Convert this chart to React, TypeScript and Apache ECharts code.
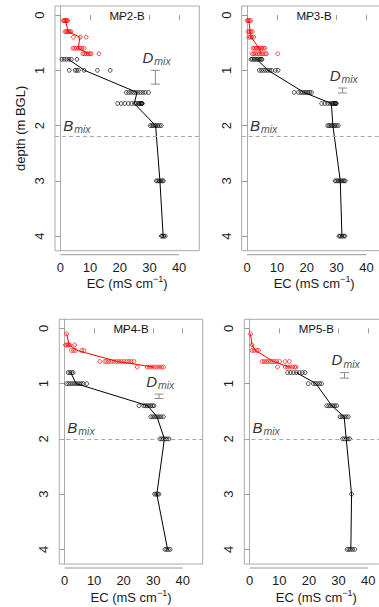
import React, { useEffect, useRef } from "react";
import * as echarts from "echarts";

// ---------- data ----------
const panelNames = ["MP2-B", "MP3-B", "MP4-B", "MP5-B"];
const xTicks = [0, 10, 20, 30, 40];
const yTicks = [0, 1, 2, 3, 4];

type Group = [number, number[]]; // [depth (m BGL), EC values (mS/cm)]

const mp2Red: Group[] = [
  [0.1, [1.0, 1.3, 1.6, 1.9, 2.2, 2.5]],
  [0.3, [1.6, 2.0, 2.4, 2.8, 3.2, 3.6]],
  [0.4, [4.4, 6.7, 8.7]],
  [0.6, [4.2, 4.8, 5.4, 6.0, 6.6, 7.2, 8.0]],
  [0.7, [7.6, 8.2, 8.8, 9.4, 10.0, 10.4, 13.0]],
];
const mp2Black: Group[] = [
  [0.8, [0.5, 1.3, 2.1, 2.9, 3.7, 5.6]],
  [1.0, [3.0, 5.0, 5.5, 6.1, 8.0, 12.5, 16.8]],
  [1.4, [22.2, 23.0, 23.8, 24.6, 25.4, 26.2, 27.0, 27.8, 28.6, 29.7]],
  [1.6, [19.3, 20.5, 21.7, 22.9, 24.0, 25.0, 25.6, 26.2, 26.6, 26.9, 27.2, 27.5, 27.5, 27.5]],
  [2.0, [30.3, 30.8, 31.3, 31.8, 32.3, 32.8, 33.4, 34.0]],
  [3.0, [32.3, 32.8, 33.3, 33.8, 34.3, 34.7]],
  [4.0, [34.0, 34.4, 34.8, 35.3]],
];

const mp3Red: Group[] = [
  [0.1, [0.0, 0.4, 0.8, 1.2]],
  [0.3, [0.3, 0.8, 1.3, 1.8]],
  [0.4, [0.6, 1.1, 1.6, 2.2]],
  [0.6, [2.0, 2.5, 3.0, 3.5, 4.0, 4.5, 5.0, 5.5, 6.0]],
  [0.7, [1.7, 2.3, 2.9, 3.5, 4.1, 4.7, 5.3, 6.1, 6.5, 10.3]],
];
const mp3Black: Group[] = [
  [0.8, [1.3, 1.8, 2.3, 2.8, 3.3, 3.8, 4.3, 4.7, 5.0]],
  [1.0, [4.1, 4.8, 5.5, 6.2, 6.9, 7.6, 8.3, 9.5, 10.4]],
  [1.4, [15.8, 17.2, 18.0, 18.6, 19.2, 19.8, 20.4, 21.0, 21.6]],
  [1.6, [25.0, 26.0, 27.0, 27.8, 28.4, 28.8, 29.1, 29.4, 29.6, 29.8, 29.9]],
  [2.0, [27.0, 27.5, 28.0, 28.5, 29.0, 29.5, 30.0, 30.6]],
  [3.0, [29.5, 30.0, 30.5, 31.0, 31.5, 32.0, 32.5, 32.9]],
  [4.0, [30.8, 31.3, 31.8, 32.3, 32.8]],
];

const mp4Red: Group[] = [
  [0.1, [0.7]],
  [0.3, [0.3, 0.8, 1.3, 1.8, 3.4]],
  [0.4, [2.3, 3.0, 3.7, 5.8, 6.5]],
  [0.6, [11.9, 13.6, 14.2, 15.0, 15.8, 16.7, 17.6, 18.4, 19.2, 20.1, 21.0, 21.8, 22.6, 23.5]],
  [0.7, [24.6, 28.0, 28.8, 29.6, 30.4, 31.2, 32.0, 32.8, 33.5]],
];
const mp4Black: Group[] = [
  [0.8, [1.2, 1.8, 2.4, 2.9]],
  [1.0, [0.7, 1.4, 2.1, 2.8, 3.5, 4.2, 4.9, 5.6, 6.3, 7.5]],
  [1.4, [25.2, 26.8, 27.4, 28.0, 28.6, 29.2, 29.8, 30.3]],
  [1.6, [29.2, 29.9, 30.6, 31.3, 32.0, 32.7, 33.5]],
  [2.0, [32.3, 32.9, 33.5, 34.1, 34.7, 35.4]],
  [3.0, [30.5, 31.0, 31.5, 32.0]],
  [4.0, [34.0, 34.6, 35.2, 35.8]],
];

const mp5Red: Group[] = [
  [0.1, [0.3]],
  [0.3, [0.8]],
  [0.4, [0.8, 1.5, 2.4, 3.0]],
  [0.6, [4.2, 4.9, 5.6, 6.3, 7.0, 7.7, 8.4, 9.1, 10.1, 12.0, 13.4]],
  [0.7, [9.4, 12.0, 12.8, 13.6, 14.4, 15.2, 15.7]],
];
const mp5Black: Group[] = [
  [0.8, [12.8, 13.8, 14.8, 15.8, 16.8, 17.8, 18.7]],
  [1.0, [19.8, 21.5, 22.2, 22.9, 23.6, 24.3]],
  [1.4, [26.0, 26.7, 27.4, 28.1, 28.8, 29.4]],
  [1.6, [30.5, 31.2, 31.9, 32.6, 33.3]],
  [2.0, [31.4, 32.0, 32.6, 33.2, 33.8]],
  [3.0, [34.4]],
  [4.0, [32.9, 33.5, 34.1, 34.8, 35.5]],
];

const redGroups = [mp2Red, mp3Red, mp4Red, mp5Red];
const blackGroups = [mp2Black, mp3Black, mp4Black, mp5Black];

// D_mix error bars (EC position, top depth, bottom depth) and B_mix depths
const dmixEC = [32, 32, 32, 32];
const dmixTop = [1.0, 1.32, 1.19, 0.8];
const dmixBottom = [1.25, 1.41, 1.27, 0.9];
const bmixDepth = [2.2, 2.2, 2.0, 2.0];
const bmixLabelEC = 5;

// ---------- helpers ----------
const FONT = "'Liberation Sans', Arial, Helvetica, sans-serif";

function toPoints(groups: Group[]): number[][] {
  const out: number[][] = [];
  groups.forEach(([d, vals]) => vals.forEach((v) => out.push([v, d])));
  return out;
}
function toMeans(groups: Group[]): number[][] {
  return groups.map(([d, vals]) => [vals.reduce((a, b) => a + b, 0) / vals.length, d]);
}

const grids = [
  { left: 55, top: 6, width: 144.3, height: 244.7 },
  { left: 241.7, top: 6, width: 145, height: 244.7 },
  { left: 59.3, top: 319.3, width: 143.4, height: 244.7 },
  { left: 244.3, top: 319.3, width: 144, height: 244.7 },
];

export default function App() {
  const ref = useRef<HTMLDivElement>(null);

  useEffect(() => {
    if (!ref.current) return;
    const chart = echarts.init(ref.current, undefined, { renderer: "svg" });

    const xAxes = grids.map((_, i) => ({
      type: "value",
      gridIndex: i,
      min: -1.8,
      max: 46.8,
      offset: 4,
      position: "bottom",
      splitLine: { show: false },
      axisLine: { show: false },
      axisTick: { show: true, length: 5, customValues: xTicks, lineStyle: { color: "#9a9a9a" } },
      axisLabel: { customValues: xTicks, margin: 6, fontSize: 13, color: "#1a1a1a", fontFamily: FONT },
      name: "EC (mS cm{s|−1}{p|)}",
      nameLocation: "middle",
      nameGap: 20,
      nameTextStyle: {
        fontSize: 13,
        color: "#1a1a1a",
        fontFamily: FONT,
        lineHeight: 18,
        rich: {
          s: { fontSize: 9, lineHeight: 10, verticalAlign: "top", color: "#1a1a1a", fontFamily: FONT },
          p: { fontSize: 13, lineHeight: 18, color: "#1a1a1a", fontFamily: FONT },
        },
      },
    }));

    const yAxes = grids.map((_, i) => ({
      type: "value",
      gridIndex: i,
      min: -0.164,
      max: 4.264,
      inverse: true,
      splitLine: { show: false },
      axisLine: { show: true, lineStyle: { color: "#ababab" } },
      axisTick: { show: true, length: 5, customValues: yTicks, lineStyle: { color: "#9a9a9a" } },
      axisLabel: { customValues: yTicks, rotate: 90, margin: 9, fontSize: 13, color: "#1a1a1a", fontFamily: FONT },
      name: i === 0 ? "depth (m BGL)" : "",
      nameLocation: "middle",
      nameGap: 28,
      nameTextStyle: { fontSize: 13, color: "#1a1a1a", fontFamily: FONT },
    }));

    const series: any[] = [];
    grids.forEach((_, i) => {
      series.push({
        type: "line",
        xAxisIndex: i,
        yAxisIndex: i,
        data: toMeans(redGroups[i]),
        showSymbol: false,
        symbol: "none",
        lineStyle: { color: "#ff0000", width: 1 },
        silent: true,
      });
      series.push({
        type: "line",
        xAxisIndex: i,
        yAxisIndex: i,
        data: toMeans(blackGroups[i]),
        showSymbol: false,
        symbol: "none",
        lineStyle: { color: "#000000", width: 1 },
        silent: true,
        markLine: {
          silent: true,
          symbol: ["none", "none"],
          label: { show: false },
          lineStyle: { color: "#a8a8a8", type: [4, 3], width: 1 },
          data: [{ yAxis: bmixDepth[i] }],
        },
      });
      series.push({
        type: "scatter",
        xAxisIndex: i,
        yAxisIndex: i,
        data: toPoints(redGroups[i]),
        symbol: "circle",
        symbolSize: 3.8,
        itemStyle: { color: "rgba(255,255,255,0)", borderColor: "#ff0000", borderWidth: 0.9 },
        silent: true,
      });
      series.push({
        type: "scatter",
        xAxisIndex: i,
        yAxisIndex: i,
        data: toPoints(blackGroups[i]),
        symbol: "circle",
        symbolSize: 3.8,
        itemStyle: { color: "rgba(255,255,255,0)", borderColor: "#000000", borderWidth: 0.9 },
        silent: true,
      });
    });

    chart.setOption({
      animation: false,
      backgroundColor: "#ffffff",
      textStyle: { fontFamily: FONT },
      grid: grids.map((g) => ({
        left: g.left,
        top: g.top,
        width: g.width,
        height: g.height,
        show: true,
        borderColor: "#ababab",
        borderWidth: 1,
        backgroundColor: "transparent",
        containLabel: false,
      })),
      xAxis: xAxes,
      yAxis: yAxes,
      series,
    });

    // annotations positioned through the chart's own scales
    const graphic: any[] = [];
    grids.forEach((g, i) => {
      const cx = g.left + g.width / 2;
      graphic.push({
        type: "text",
        x: cx,
        y: g.top + 10,
        silent: true,
        style: { text: panelNames[i], fontSize: 11.5, fontFamily: FONT, fill: "#111", align: "center", verticalAlign: "middle" },
      });
      const p0 = chart.convertToPixel({ gridIndex: i }, [0, 0]) as number[];
      const p40 = chart.convertToPixel({ gridIndex: i }, [40, 0]) as number[];
      const yAx = g.top + g.height + 4;
      graphic.push({
        type: "line",
        silent: true,
        shape: { x1: p0[0], y1: yAx, x2: p40[0], y2: yAx },
        style: { stroke: "#9a9a9a", lineWidth: 1 },
      });
      const t = chart.convertToPixel({ gridIndex: i }, [dmixEC[i], dmixTop[i]]) as number[];
      const b = chart.convertToPixel({ gridIndex: i }, [dmixEC[i], dmixBottom[i]]) as number[];
      const barStyle = { stroke: "#8a8a8a", lineWidth: 1 };
      graphic.push({ type: "line", silent: true, shape: { x1: t[0], y1: t[1], x2: b[0], y2: b[1] }, style: barStyle });
      graphic.push({ type: "line", silent: true, shape: { x1: t[0] - 4.5, y1: t[1], x2: t[0] + 4.5, y2: t[1] }, style: barStyle });
      graphic.push({ type: "line", silent: true, shape: { x1: b[0] - 4.5, y1: b[1], x2: b[0] + 4.5, y2: b[1] }, style: barStyle });
      const ly = t[1] - 13;
      graphic.push({
        type: "text",
        silent: true,
        x: t[0] - 2,
        y: ly,
        style: { text: "D", fontSize: 15, fontStyle: "italic", fontFamily: FONT, fill: "#333", align: "right", verticalAlign: "middle" },
      });
      graphic.push({
        type: "text",
        silent: true,
        x: t[0] - 1,
        y: ly + 4,
        style: { text: "mix", fontSize: 10.5, fontStyle: "italic", fontFamily: FONT, fill: "#555", align: "left", verticalAlign: "middle" },
      });
      const bp = chart.convertToPixel({ gridIndex: i }, [bmixLabelEC, bmixDepth[i]]) as number[];
      graphic.push({
        type: "text",
        silent: true,
        x: bp[0] - 2,
        y: bp[1] - 11,
        style: { text: "B", fontSize: 15, fontStyle: "italic", fontFamily: FONT, fill: "#333", align: "right", verticalAlign: "middle" },
      });
      graphic.push({
        type: "text",
        silent: true,
        x: bp[0] - 1,
        y: bp[1] - 7.5,
        style: { text: "mix", fontSize: 10.5, fontStyle: "italic", fontFamily: FONT, fill: "#555", align: "left", verticalAlign: "middle" },
      });
    });
    chart.setOption({ graphic });

    return () => chart.dispose();
  }, []);

  return (
    <div style={{ position: "absolute", left: 0, top: 0, width: 379, height: 607, overflow: "hidden", background: "#fff" }}>
      <div ref={ref} style={{ width: 392, height: 607 }} />
    </div>
  );
}
